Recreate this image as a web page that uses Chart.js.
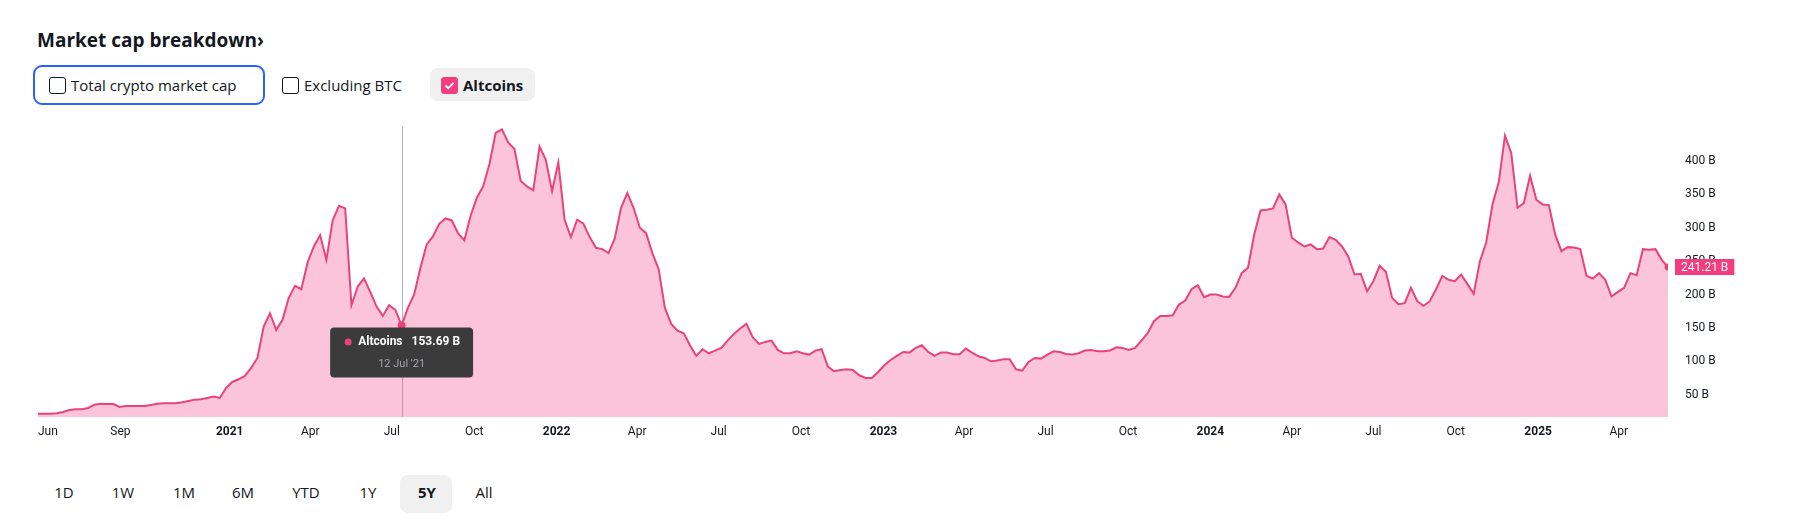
<!DOCTYPE html>
<html>
<head>
<meta charset="utf-8">
<script src="https://cdn.jsdelivr.net/npm/chart.js@4.4.1/dist/chart.umd.min.js"></script>
<style>
  body { margin: 0; width: 1793px; height: 530px; background: #fff; position: relative; overflow: hidden;
         font-family: "Open Sans", "Noto Sans", sans-serif; color: #131722; }
  .title { position: absolute; left: 37px; top: 27px; font-size: 19px; font-weight: 700; }
  .chk { position: absolute; display: flex; align-items: center; font-size: 15px; height: 20px; }
  .box { width: 17px; height: 17px; border: 1.5px solid #131722; border-radius: 3px; box-sizing: border-box; margin-right: 5px; }
  .box.on { background: #f23d7f; border-color: #f23d7f; display: flex; align-items: center; justify-content: center; }
  .focus { position: absolute; left: 33px; top: 65px; width: 232px; height: 40px; box-sizing: border-box;
           border: 2px solid #2962ff; border-radius: 9px; }
  .pill { position: absolute; background: #f0f0f0; border-radius: 8px; }
  .range { position: absolute; top: 482px; font-size: 15px; transform: translateX(-50%); }
  #wrap { position: absolute; left: 0; top: 110px; width: 1793px; height: 340px; }
</style>
</head>
<body>
<div class="title">Market cap breakdown&#8250;</div>

<div class="focus"></div>
<div class="chk" style="left:49px; top:75px;"><div class="box"></div>Total crypto market cap</div>
<div class="chk" style="left:282px; top:75px;"><div class="box"></div>Excluding BTC</div>
<div class="pill" style="left:430px; top:68px; width:105px; height:33px;"></div>
<div class="chk" style="left:441px; top:75px; font-weight:700;">
  <div class="box on"><svg width="11" height="9" viewBox="0 0 11 9"><path d="M1.5 4.5 L4.3 7.2 L9.5 1.8" stroke="#fff" stroke-width="1.8" fill="none"/></svg></div>Altcoins
</div>

<div id="wrap"><canvas id="mcap" width="1793" height="340"></canvas></div>

<div class="pill" style="left:400px; top:475px; width:52px; height:38px;"></div>
<div id="ranges"></div>

<script>
// weekly altcoin market cap (billions USD), one value per Monday from 1 Jun 2020
const startDate = '2020-06-01';
const altcoins = [
  21.5, 21.5, 21.5, 22, 24, 27, 28, 28, 30, 35,
  36.5, 36, 36, 31.5, 33, 33, 33, 33, 34.5, 36.5,
  37, 37, 37, 38.5, 40.5, 42.5, 43, 45, 47, 45,
  60, 69, 73, 78, 90, 105, 152, 172, 147, 162,
  195, 213, 208, 248, 272, 289, 252, 311, 333, 329,
  184, 212, 224, 204, 182, 168, 184, 177, 153.69, 180,
  200, 240, 275, 287, 306, 314, 311, 292, 281, 318,
  345, 362, 395, 442, 447.5, 428, 418, 370, 362, 356,
  422, 402, 355, 398, 312, 286, 312, 306, 286, 270,
  268, 262, 284, 330, 352, 330, 300, 292, 262, 238,
  180, 156, 146, 142, 124, 108, 118, 112, 116, 120,
  131, 141, 149, 156, 136, 126, 129, 131, 117, 112,
  112, 115, 112, 110, 116, 118, 92, 85, 87, 88,
  87, 79, 75, 75, 84, 94, 102, 108, 114, 113,
  120, 124, 114, 108, 113, 113, 110.5, 110.5, 119, 113,
  107.5, 105, 100, 101, 103, 103, 88, 86, 99, 105,
  104, 110, 115, 114, 111, 110, 112, 116, 117, 115,
  115, 116, 121, 120, 117, 120, 131, 142, 160, 168,
  168, 169, 185, 191, 208, 214, 196, 200, 200, 197,
  196.5, 210, 232, 240, 290, 326, 327, 329, 350, 335,
  285, 278, 272, 275, 268, 269, 286, 282, 272, 257,
  230, 231, 205, 220, 243, 234, 195, 185.5, 187, 210,
  190, 183, 190, 208, 228, 222, 220, 230, 216, 201,
  250, 278, 335, 368, 438, 412, 330, 337, 378, 342,
  335, 334, 290, 265, 271, 270.5, 268, 228, 224, 232,
  222, 197, 204, 210, 232, 229, 268, 267, 268, 252,
  241.21
];
const xTickDates = ['2020-06-01', '2020-09-01', '2021-01-01', '2021-04-01', '2021-07-01', '2021-10-01',
  '2022-01-01', '2022-04-01', '2022-07-01', '2022-10-01', '2023-01-01', '2023-04-01', '2023-07-01',
  '2023-10-01', '2024-01-01', '2024-04-01', '2024-07-01', '2024-10-01', '2025-01-01', '2025-04-01'];
const xTickLabels = ['Jun', 'Sep', '2021', 'Apr', 'Jul', 'Oct', '2022', 'Apr', 'Jul', 'Oct', '2023', 'Apr', 'Jul',
  'Oct', '2024', 'Apr', 'Jul', 'Oct', '2025', 'Apr'];
const yTicks = [50, 100, 150, 200, 250, 300, 350, 400];
const ranges = ['1D', '1W', '1M', '6M', 'YTD', '1Y', '5Y', 'All'];
const hoverIndex = 58;

const FONT = 'Roboto, "Noto Sans", sans-serif';
const LINE = '#e8437a';
const DAY = 86400000;
const t0 = Date.parse(startDate);
const dayOf = s => (Date.parse(s) - t0) / DAY;
const last = altcoins.length - 1;
const MONTHS = ['Jan','Feb','Mar','Apr','May','Jun','Jul','Aug','Sep','Oct','Nov','Dec'];

function fmtDate(i) {
  const d = new Date(t0 + i * 7 * DAY);
  return d.getUTCDate() + ' ' + MONTHS[d.getUTCMonth()] + " '" + String(d.getUTCFullYear()).slice(2);
}

// range buttons under the chart
const rangeX = [64, 123, 184, 243, 306, 368, 427, 484];
ranges.forEach((r, i) => {
  const el = document.createElement('div');
  el.className = 'range';
  el.style.left = rangeX[i] + 'px';
  if (r === '5Y') el.style.fontWeight = '700';
  el.textContent = r;
  document.getElementById('ranges').appendChild(el);
});

const overlay = {
  id: 'overlay',
  beforeDatasetsDraw(chart) {
    const { ctx, chartArea, scales } = chart;
    const x = Math.round(scales.x.getPixelForValue(hoverIndex * 7)) + 0.5;
    ctx.save();
    ctx.strokeStyle = '#b2b5be';
    ctx.lineWidth = 1;
    ctx.beginPath();
    ctx.moveTo(x, chartArea.top);
    ctx.lineTo(x, chartArea.bottom);
    ctx.stroke();
    ctx.restore();
  },
  afterDraw(chart) {
    const { ctx, chartArea, scales } = chart;
    ctx.save();

    // x axis labels
    ctx.fillStyle = '#131722';
    ctx.textBaseline = 'middle';
    ctx.textAlign = 'left';
    xTickDates.forEach((d, i) => {
      const lab = xTickLabels[i];
      ctx.font = (/^\d{4}$/.test(lab) ? '700 ' : '400 ') + '12px ' + FONT;
      const w = ctx.measureText(lab).width;
      let x = scales.x.getPixelForValue(dayOf(d)) - w / 2;
      if (x < chartArea.left) x = chartArea.left;
      ctx.fillText(lab, x, chartArea.bottom + 15);
    });

    // last value tag on the price axis
    const ly = scales.y.getPixelForValue(altcoins[last]);
    const tag = altcoins[last].toFixed(2) + ' B';
    ctx.font = '400 12px ' + FONT;
    const tw = ctx.measureText(tag).width + 12;
    ctx.fillStyle = '#f23d7f';
    ctx.fillRect(chartArea.right + 7, Math.round(ly) - 8, tw, 16);
    ctx.fillStyle = '#fff';
    ctx.textAlign = 'center';
    ctx.fillText(tag, chartArea.right + 7 + tw / 2, Math.round(ly) + 0.5);

    // tooltip for the hovered week
    const px = scales.x.getPixelForValue(hoverIndex * 7);
    const py = scales.y.getPixelForValue(altcoins[hoverIndex]);
    ctx.font = '700 12px ' + FONT;
    const name = 'Altcoins';
    const val = altcoins[hoverIndex].toFixed(2) + ' B';
    const wn = ctx.measureText(name).width;
    const wv = ctx.measureText(val).width;
    const bw = 28 + wn + 9 + wv + 13;
    const bx = px - bw / 2, by = py + 2, bh = 50;
    ctx.fillStyle = '#3b3b3b';
    ctx.beginPath();
    ctx.roundRect(bx, by, bw, bh, 4);
    ctx.fill();
    ctx.fillStyle = LINE;
    ctx.beginPath();
    ctx.arc(bx + 18, by + 14.5, 3.5, 0, Math.PI * 2);
    ctx.fill();
    ctx.fillStyle = '#fff';
    ctx.textAlign = 'left';
    ctx.fillText(name, bx + 28, by + 15);
    ctx.fillText(val, bx + 28 + wn + 9, by + 15);
    ctx.font = '400 11px ' + FONT;
    ctx.fillStyle = '#a3a6af';
    ctx.textAlign = 'center';
    ctx.fillText(fmtDate(hoverIndex), bx + bw / 2, by + 37);
    ctx.restore();
  }
};

const ctx = document.getElementById('mcap').getContext('2d');
new Chart(ctx, {
  type: 'line',
  data: {
    datasets: [{
      label: 'Altcoins',
      data: altcoins.map((v, i) => ({ x: i * 7, y: v })),
      borderColor: LINE,
      borderWidth: 2,
      backgroundColor: 'rgba(245, 60, 130, 0.3)',
      fill: 'start',
      tension: 0,
      pointRadius: c => c.dataIndex === hoverIndex ? 4 : (c.dataIndex === last ? 3.5 : 0),
      pointBackgroundColor: LINE,
      pointBorderWidth: 0
    }]
  },
  options: {
    responsive: false,
    animation: false,
    events: [],
    layout: { padding: { left: 38, right: 0, top: 16, bottom: 33 } },
    plugins: { legend: { display: false }, tooltip: { enabled: false } },
    scales: {
      x: { type: 'linear', display: false, min: 0, max: last * 7 },
      y: {
        position: 'right',
        min: 16.5,
        max: 452.5,
        grid: { display: false, drawTicks: false },
        border: { display: false },
        afterFit: s => { s.width = 125; s.paddingTop = 0; s.paddingBottom = 0; },
        afterBuildTicks: s => { s.ticks = yTicks.map(v => ({ value: v })); },
        ticks: {
          padding: 17,
          color: '#131722',
          font: { size: 12, family: FONT },
          callback: v => v + ' B'
        }
      }
    }
  },
  plugins: [overlay]
});
</script>
</body>
</html>
